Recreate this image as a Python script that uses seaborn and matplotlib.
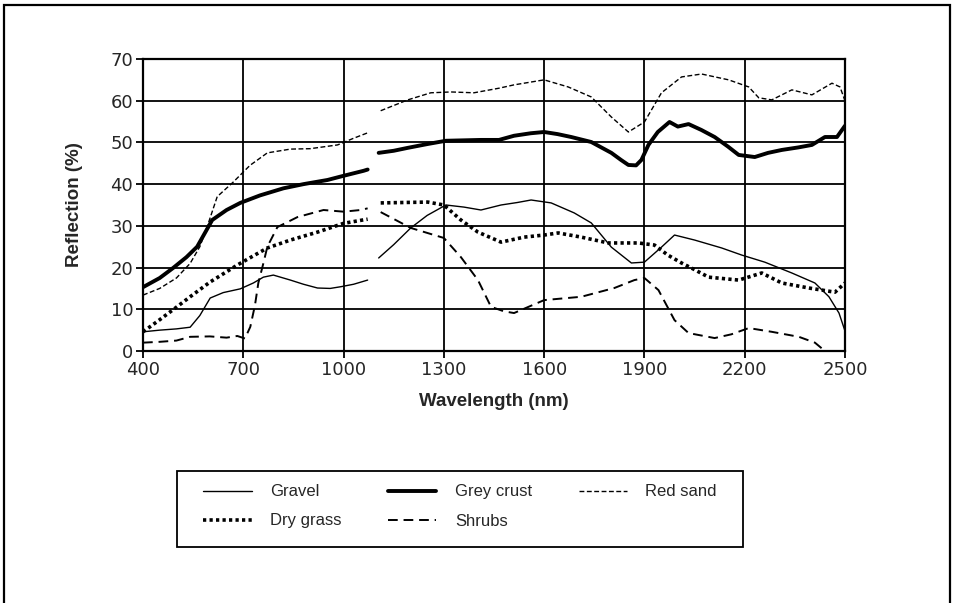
import matplotlib
matplotlib.use("Agg")
import matplotlib.pyplot as plt
import matplotlib.patches as mpatches
import seaborn as sns
import pandas as pd

# ---------------- data ----------------
wavelength_ticks = [400, 700, 1000, 1300, 1600, 1900, 2200, 2500]
reflection_ticks = [0, 10, 20, 30, 40, 50, 60, 70]

gravel_vis_x = [400, 450, 500, 541, 570, 601, 640, 691, 730, 760, 790, 841, 880, 922, 960, 991, 1030, 1072]
gravel_vis_y = [4.6, 5.0, 5.3, 5.7, 8.5, 12.7, 14.0, 14.9, 16.3, 17.7, 18.2, 17.0, 16.0, 15.1, 15.0, 15.4, 16.0, 17.0]
gravel_swir_x = [1105, 1150, 1201, 1250, 1306, 1360, 1411, 1471, 1520, 1561, 1621, 1690, 1741, 1801, 1861, 1900,
                 1951, 1990, 2050, 2131, 2191, 2260, 2341, 2410, 2452, 2482, 2500]
gravel_swir_y = [22.3, 25.5, 29.5, 32.5, 35.0, 34.5, 33.8, 35.0, 35.6, 36.2, 35.5, 33.1, 30.7, 24.9, 21.1, 21.3,
                 24.9, 27.8, 26.6, 24.7, 23.0, 21.3, 18.7, 16.3, 13.0, 9.1, 4.8]

crust_vis_x = [400, 450, 490, 530, 562, 607, 650, 691, 750, 820, 880, 952, 1000, 1060, 1072]
crust_vis_y = [15.3, 17.5, 19.9, 22.5, 25.0, 31.4, 33.8, 35.5, 37.3, 39.0, 40.0, 41.0, 42.0, 43.2, 43.5]
crust_swir_x = [1105, 1150, 1192, 1250, 1306, 1411, 1465, 1510, 1560, 1600, 1640, 1681, 1741, 1801, 1830, 1852,
                1875, 1891, 1912, 1940, 1975, 2000, 2032, 2070, 2110, 2150, 2182, 2230, 2270, 2311, 2360, 2401,
                2440, 2476, 2500]
crust_swir_y = [47.5, 48.0, 48.7, 49.6, 50.4, 50.6, 50.6, 51.6, 52.2, 52.5, 52.0, 51.3, 50.1, 47.5, 45.8, 44.6,
                44.5, 45.8, 49.4, 52.5, 54.9, 53.8, 54.4, 53.0, 51.3, 49.0, 47.0, 46.5, 47.5, 48.2, 48.8, 49.4,
                51.3, 51.3, 54.0]

redsand_vis_x = [400, 450, 500, 541, 570, 592, 622, 670, 720, 772, 841, 900, 982, 1030, 1072]
redsand_vis_y = [13.4, 15.0, 17.5, 21.0, 25.0, 29.8, 37.0, 40.5, 44.5, 47.5, 48.4, 48.5, 49.4, 51.0, 52.3]
redsand_swir_x = [1111, 1192, 1261, 1321, 1390, 1465, 1510, 1600, 1672, 1741, 1801, 1852, 1900, 1951, 2011,
                  2071, 2152, 2212, 2242, 2281, 2341, 2401, 2461, 2485, 2500]
redsand_swir_y = [57.6, 60.2, 61.9, 62.1, 61.9, 63.0, 63.8, 65.0, 63.3, 60.9, 56.1, 52.5, 54.9, 61.9, 65.7,
                  66.4, 65.0, 63.3, 60.7, 60.2, 62.6, 61.4, 64.2, 63.3, 60.0]

drygrass_vis_x = [400, 450, 500, 541, 600, 682, 730, 772, 841, 922, 1000, 1057, 1072]
drygrass_vis_y = [4.6, 7.5, 10.5, 13.0, 16.5, 20.6, 22.8, 24.7, 26.6, 28.5, 30.6, 31.4, 31.6]
drygrass_swir_x = [1111, 1180, 1252, 1300, 1351, 1402, 1471, 1540, 1600, 1642, 1711, 1792, 1882, 1930, 1970,
                   2011, 2050, 2092, 2182, 2251, 2311, 2392, 2470, 2500]
drygrass_swir_y = [35.5, 35.6, 35.7, 35.0, 31.4, 28.5, 26.1, 27.3, 27.8, 28.3, 27.3, 25.9, 25.9, 25.4, 23.0,
                   21.1, 19.5, 17.7, 17.0, 18.7, 16.3, 15.1, 14.1, 16.3]

shrubs_vis_x = [400, 450, 500, 541, 600, 650, 682, 705, 721, 735, 745, 760, 772, 802, 862, 940, 1000, 1051, 1072]
shrubs_vis_y = [2.0, 2.2, 2.5, 3.4, 3.5, 3.2, 3.6, 3.0, 5.8, 11.0, 16.3, 21.0, 25.0, 29.7, 32.1, 33.8, 33.4, 33.8, 34.2]
shrubs_swir_x = [1111, 1201, 1300, 1351, 1402, 1441, 1480, 1510, 1600, 1711, 1810, 1870, 1900, 1942, 1990,
                 2032, 2110, 2160, 2212, 2281, 2362, 2410, 2440]
shrubs_swir_y = [33.3, 29.5, 27.1, 22.5, 17.0, 10.6, 9.5, 9.1, 12.2, 13.0, 15.1, 17.0, 17.5, 14.6, 7.4,
                 4.3, 3.1, 4.0, 5.5, 4.6, 3.4, 2.0, 0.0]

series_names = ["Gravel", "Grey crust", "Red sand", "Dry grass", "Shrubs"]

# ---------------- styling ----------------
sns.set_theme(style="ticks")
plt.rcParams["font.family"] = ["Liberation Sans", "DejaVu Sans"]

fig = plt.figure(figsize=(9.56, 6.03), dpi=100)
ax = fig.add_axes([143 / 956, 1 - 351 / 603, 702 / 956, 292 / 603])

styles = {
    "Gravel": dict(lw=1.0, linestyle="-"),
    "Grey crust": dict(lw=2.8, linestyle="-"),
    "Red sand": dict(lw=1.0, linestyle=(0, (3.5, 1.8))),
    "Dry grass": dict(lw=2.6, linestyle=(0, (0.9, 0.9))),
    "Shrubs": dict(lw=1.4, linestyle=(0, (5, 3))),
}
segments = {
    "Gravel": [(gravel_vis_x, gravel_vis_y), (gravel_swir_x, gravel_swir_y)],
    "Grey crust": [(crust_vis_x, crust_vis_y), (crust_swir_x, crust_swir_y)],
    "Red sand": [(redsand_vis_x, redsand_vis_y), (redsand_swir_x, redsand_swir_y)],
    "Dry grass": [(drygrass_vis_x, drygrass_vis_y), (drygrass_swir_x, drygrass_swir_y)],
    "Shrubs": [(shrubs_vis_x, shrubs_vis_y), (shrubs_swir_x, shrubs_swir_y)],
}

handles = {}
for name in series_names:
    for i, (xs, ys) in enumerate(segments[name]):
        df = pd.DataFrame({"Wavelength": xs, "Reflection": ys})
        n_before = len(ax.lines)
        sns.lineplot(data=df, x="Wavelength", y="Reflection", ax=ax, color="black",
                     estimator=None, sort=True, zorder=3, **styles[name])
        if i == 0:
            handles[name] = ax.lines[n_before]

ax.set_xlim(400, 2500)
ax.set_ylim(0, 70)
ax.set_xticks(wavelength_ticks)
ax.set_yticks(reflection_ticks)
ax.set_xticklabels([str(v) for v in wavelength_ticks], family="DejaVu Sans", fontsize=13)
ax.set_yticklabels([str(v) for v in reflection_ticks], family="DejaVu Sans", fontsize=13)
ax.grid(True, color="black", lw=1.3, zorder=1)
for s in ax.spines.values():
    s.set_color("black")
    s.set_linewidth(1.6)
ax.tick_params(axis="both", direction="out", length=5, width=1.3, color="black", pad=2)
ax.tick_params(axis="x", pad=2.5)
ax.set_xlabel("Wavelength (nm)", fontsize=13.5, fontweight="bold", labelpad=10)
ax.set_ylabel("Reflection (%)", fontsize=13.5, fontweight="bold", labelpad=20)

# legend box
fig.patches.append(mpatches.Rectangle((177 / 956, 1 - 547 / 603), 566 / 956, 76 / 603,
                                      transform=fig.transFigure, fill=False, ec="black", lw=1.3))
order = ["Gravel", "Dry grass", "Grey crust", "Shrubs", "Red sand"]
fig.legend([handles[n] for n in order], order, ncol=3, frameon=False, fontsize=12,
           loc="upper left", bbox_to_anchor=(195 / 956, 1 - 476 / 603), borderpad=0,
           handlelength=2.9, handletextpad=1.1, columnspacing=2.8, labelspacing=0.85)

# outer figure border
fig.patches.append(mpatches.Rectangle((4 / 956, -0.05), 946 / 956, 1.05 - 5 / 603,
                                      transform=fig.transFigure, fill=False, ec="black", lw=1.6))

fig.savefig("out.png", dpi=100)
